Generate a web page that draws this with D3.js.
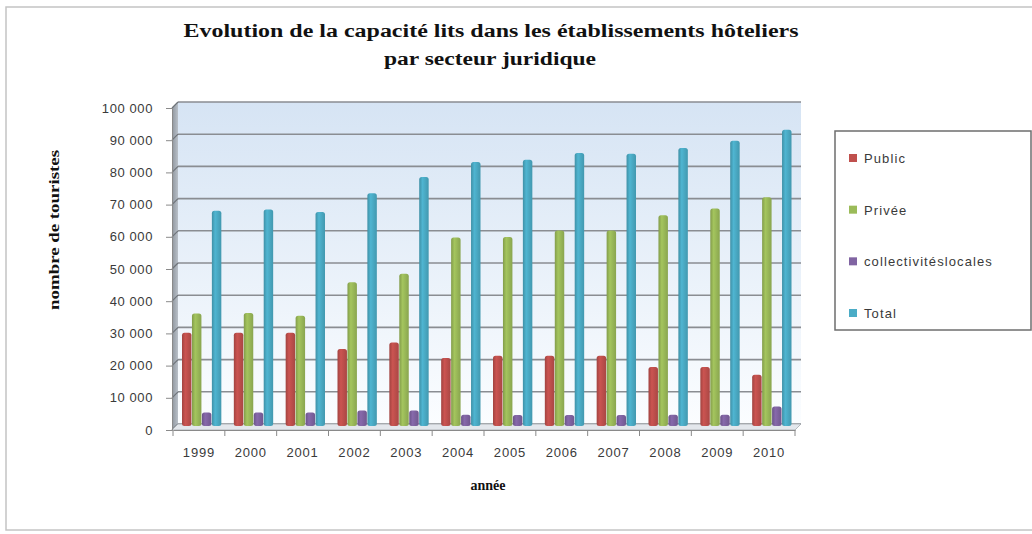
<!DOCTYPE html>
<html>
<head>
<meta charset="utf-8">
<script src="https://cdn.jsdelivr.net/npm/d3@7"></script>
<style>
	body { margin: 0; background: #fff; }
	text { font-family: 'Liberation Sans', Arial, sans-serif; }
	.serif { font-family: 'Liberation Serif', 'Times New Roman', serif; font-weight: bold; fill: #111; }
</style>
</head>
<body>
<div id="my_dataviz"></div>
<script>
const years = [ '1999', '2000', '2001', '2002', '2003', '2004', '2005', '2006', '2007', '2008', '2009', '2010' ];
const seriesNames = [ 'Public', 'Privée', 'collectivitéslocales', 'Total' ];
const publicValues = [ 28300, 28300, 28300, 23300, 25300, 20500, 21200, 21200, 21200, 17700, 17700, 15300 ];
const priveeValues = [ 34300, 34500, 33600, 44000, 46700, 57900, 58100, 60100, 60100, 64800, 66900, 70400 ];
const collectivitesValues = [ 3600, 3600, 3600, 4200, 4200, 2900, 2800, 2800, 2800, 2900, 2900, 5400 ];
const totalValues = [ 66200, 66600, 65800, 71700, 76700, 81400, 82100, 84200, 83900, 85700, 88000, 91400 ];
const yTicks = [ 0, 10000, 20000, 30000, 40000, 50000, 60000, 70000, 80000, 90000, 100000 ];
const colors = [ '#c0504d', '#9bbb59', '#8064a2', '#4bacc6' ];

const allValues = [ publicValues, priveeValues, collectivitesValues, totalValues ];

let dimensions = {
	width  : 1032,
	height : 534
};

// 3D look: the back wall sits a few px up and right of the front edge
const depth = { dx: 6, dy: 6 };

const svg = d3.select('#my_dataviz').append('svg').attr('width', dimensions.width).attr('height', dimensions.height);

const defs = svg.append('defs');

const wallGrad = defs.append('linearGradient').attr('id', 'wall').attr('x1', 0).attr('y1', 0).attr('x2', 0).attr('y2', 1);
wallGrad.append('stop').attr('offset', '0%').attr('stop-color', '#d6e4f4');
wallGrad.append('stop').attr('offset', '100%').attr('stop-color', '#fbfdff');

const sideGrad = defs.append('linearGradient').attr('id', 'side').attr('x1', 0).attr('y1', 0).attr('x2', 1).attr('y2', 0);
sideGrad.append('stop').attr('offset', '0%').attr('stop-color', '#8e959e');
sideGrad.append('stop').attr('offset', '100%').attr('stop-color', '#b9c0c8');

colors.forEach(function(c, i) {
	const g = defs.append('linearGradient').attr('id', 'bar' + i).attr('x1', 0).attr('y1', 0).attr('x2', 1).attr('y2', 0);
	g.append('stop').attr('offset', '0%').attr('stop-color', d3.color(c).darker(0.5));
	g.append('stop').attr('offset', '35%').attr('stop-color', d3.color(c).brighter(0.15));
	g.append('stop').attr('offset', '100%').attr('stop-color', d3.color(c).darker(0.35));
});

// outer chart frame
svg
	.append('rect')
	.attr('x', 6)
	.attr('y', 7)
	.attr('width', 1040)
	.attr('height', 523)
	.attr('fill', '#fff')
	.attr('stroke', '#c4c4c4')
	.attr('stroke-width', 1.5);

// title
svg
	.append('text')
	.attr('class', 'serif')
	.attr('x', 491)
	.attr('y', 37)
	.attr('text-anchor', 'middle')
	.attr('font-size', 18)
	.attr('textLength', 615)
	.attr('lengthAdjust', 'spacingAndGlyphs')
	.text('Evolution de la capacité lits dans les établissements  hôteliers');

svg
	.append('text')
	.attr('class', 'serif')
	.attr('x', 490)
	.attr('y', 65)
	.attr('text-anchor', 'middle')
	.attr('font-size', 18)
	.attr('textLength', 212)
	.attr('lengthAdjust', 'spacingAndGlyphs')
	.text('par secteur juridique');

const x0 = d3.scaleBand().domain(years).range([ 173, 795 ]);
const x1 = d3.scaleBand().domain(seriesNames).range([ 9, x0.bandwidth() - 3 ]);
const y = d3.scaleLinear().domain([ 0, 100000 ]).range([ 424, 102 ]);

const left = 172;
const right = 795;

// back wall
svg
	.append('rect')
	.attr('x', left + depth.dx)
	.attr('y', y(100000))
	.attr('width', right + depth.dx - left - depth.dx)
	.attr('height', y(0) - y(100000))
	.attr('fill', 'url(#wall)');

// left side wall
svg
	.append('polygon')
	.attr('points', [
		[ left, y(100000) + depth.dy ],
		[ left + depth.dx, y(100000) ],
		[ left + depth.dx, y(0) ],
		[ left, y(0) + depth.dy ]
	].join(' '))
	.attr('fill', 'url(#side)');

// gridlines on back wall plus the little slant on the side wall
const grid = svg.append('g').attr('class', 'grid');
grid
	.selectAll('line.h')
	.data(yTicks)
	.enter()
	.append('line')
	.attr('class', 'h')
	.attr('x1', left + depth.dx)
	.attr('x2', right + depth.dx)
	.attr('y1', function(d) { return y(d); })
	.attr('y2', function(d) { return y(d); })
	.attr('stroke', '#8a8d92')
	.attr('stroke-width', 1.6);
grid
	.selectAll('line.s')
	.data(yTicks)
	.enter()
	.append('line')
	.attr('class', 's')
	.attr('x1', left)
	.attr('x2', left + depth.dx)
	.attr('y1', function(d) { return y(d) + depth.dy; })
	.attr('y2', function(d) { return y(d); })
	.attr('stroke', '#6f747a')
	.attr('stroke-width', 1.2);

// floor
svg
	.append('polygon')
	.attr('points', [
		[ left, y(0) + depth.dy ],
		[ left + depth.dx, y(0) ],
		[ right + depth.dx, y(0) ],
		[ right, y(0) + depth.dy ]
	].join(' '))
	.attr('fill', '#e3e7ec')
	.attr('stroke', '#a5a9ae')
	.attr('stroke-width', 0.8);

// y axis on the front edge
const yAxis = d3.axisLeft(y).tickValues(yTicks).tickSizeOuter(0).tickSize(6).tickPadding(13).tickFormat(function(d) {
	return d3.format(',')(d).replace(/,/g, ' ');
});
const yAxisG = svg.append('g').attr('transform', 'translate(' + left + ',' + depth.dy + ')').call(yAxis);
yAxisG.select('.domain').attr('stroke', '#8a8a8a');
yAxisG.selectAll('.tick line').attr('stroke', '#8a8a8a');
yAxisG
	.selectAll('.tick text')
	.attr('font-size', 13)
	.attr('letter-spacing', 0.6)
	.attr('fill', '#3a3a3a')
	.attr('font-family', "'Liberation Sans', Arial, sans-serif");

// x axis on the front edge
const xAxis = d3.axisBottom(x0).tickSize(0).tickPadding(18);
const xAxisG = svg.append('g').attr('transform', 'translate(0,' + (y(0) + depth.dy) + ')').call(xAxis);
xAxisG.select('.domain').attr('stroke', '#8a8a8a');
xAxisG
	.selectAll('.tick text')
	.attr('font-size', 13)
	.attr('letter-spacing', 0.8)
	.attr('fill', '#3a3a3a')
	.attr('font-family', "'Liberation Sans', Arial, sans-serif");

// category separator ticks
svg
	.append('g')
	.selectAll('line')
	.data(years.concat([ 'end' ]))
	.enter()
	.append('line')
	.attr('x1', function(d, i) { return x0.range()[0] + i * x0.step(); })
	.attr('x2', function(d, i) { return x0.range()[0] + i * x0.step(); })
	.attr('y1', y(0) + depth.dy)
	.attr('y2', y(0) + depth.dy + 6)
	.attr('stroke', '#8a8a8a');

// bars
const groups = svg
	.append('g')
	.selectAll('g')
	.data(years)
	.enter()
	.append('g')
	.attr('transform', function(d) { return 'translate(' + x0(d) + ',0)'; });

groups
	.selectAll('rect')
	.data(function(d, i) {
		return seriesNames.map(function(s, j) {
			return { series: s, idx: j, value: allValues[j][i] };
		});
	})
	.enter()
	.append('rect')
	.attr('x', function(d) { return x1(d.series); })
	.attr('y', function(d) { return y(d.value); })
	.attr('width', x1.bandwidth() - 0.5)
	.attr('height', function(d) { return y(0) + 2 - y(d.value); })
	.attr('rx', 2.5)
	.attr('fill', function(d) { return 'url(#bar' + d.idx + ')'; });

// axis titles
svg
	.append('text')
	.attr('class', 'serif')
	.attr('transform', 'translate(59,230) rotate(-90)')
	.attr('text-anchor', 'middle')
	.attr('font-size', 14)
	.attr('textLength', 160)
	.attr('lengthAdjust', 'spacingAndGlyphs')
	.text('nombre de touristes');

svg
	.append('text')
	.attr('class', 'serif')
	.attr('x', 488)
	.attr('y', 490)
	.attr('text-anchor', 'middle')
	.attr('font-size', 14)
	.text('année');

// legend
const legend = svg.append('g').attr('class', 'legend');
legend
	.append('rect')
	.attr('x', 835)
	.attr('y', 131)
	.attr('width', 196)
	.attr('height', 199)
	.attr('fill', '#fff')
	.attr('stroke', '#6e6e6e')
	.attr('stroke-width', 1.5);

const legendRow = d3.scalePoint().domain(seriesNames).range([ 158, 313 ]);

const items = legend
	.selectAll('g.item')
	.data(seriesNames)
	.enter()
	.append('g')
	.attr('class', 'item')
	.attr('transform', function(d) { return 'translate(849,' + legendRow(d) + ')'; });

items
	.append('rect')
	.attr('x', 0)
	.attr('y', -4)
	.attr('width', 8)
	.attr('height', 8)
	.attr('fill', function(d, i) { return colors[i]; });

items
	.append('text')
	.attr('x', 15)
	.attr('y', 5)
	.attr('font-size', 13)
	.attr('letter-spacing', 1.1)
	.attr('fill', '#3a3a3a')
	.text(function(d) { return d; });
</script>
</body>
</html>
